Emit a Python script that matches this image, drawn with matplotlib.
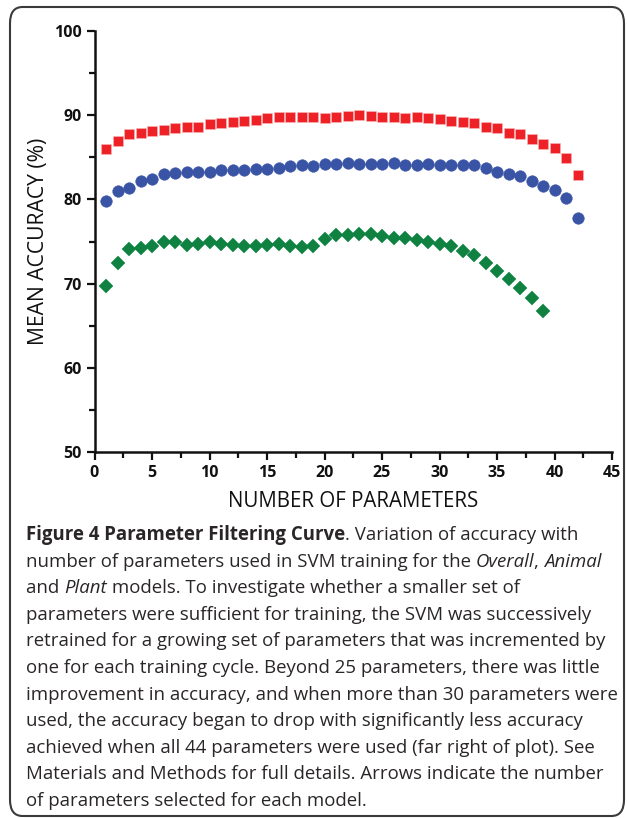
import matplotlib
matplotlib.use("Agg")
import matplotlib.pyplot as plt
from matplotlib.patches import FancyBboxPatch
from matplotlib.ticker import MultipleLocator

# ---------------- data ----------------
n_params_overall = list(range(1, 43))
overall = [86.0, 86.9, 87.7, 87.9, 88.15, 88.2, 88.5, 88.6, 88.6, 88.9,
           89.0, 89.2, 89.3, 89.45, 89.7, 89.8, 89.8, 89.8, 89.8, 89.7,
           89.8, 89.9, 90.0, 89.9, 89.8, 89.8, 89.65, 89.8, 89.65, 89.5,
           89.3, 89.2, 89.05, 88.6, 88.45, 87.9, 87.7, 87.2, 86.6, 86.1,
           84.95, 82.9]

n_params_animal = list(range(1, 43))
animal = [79.8, 81.0, 81.4, 82.2, 82.4, 82.95, 83.1, 83.3, 83.3, 83.3,
          83.5, 83.45, 83.5, 83.6, 83.6, 83.7, 84.0, 84.05, 84.0, 84.2,
          84.2, 84.3, 84.2, 84.2, 84.2, 84.3, 84.1, 84.1, 84.2, 84.1,
          84.1, 84.1, 84.1, 83.7, 83.25, 83.0, 82.8, 82.2, 81.6, 81.05,
          80.2, 77.75]

n_params_plant = list(range(1, 40))
plant = [69.75, 72.4, 74.1, 74.2, 74.5, 74.9, 74.9, 74.6, 74.7, 74.9,
         74.75, 74.6, 74.5, 74.5, 74.6, 74.7, 74.5, 74.3, 74.45, 75.3,
         75.75, 75.75, 75.9, 75.9, 75.65, 75.4, 75.4, 75.2, 74.95, 74.7,
         74.5, 73.85, 73.4, 72.45, 71.5, 70.5, 69.5, 68.35, 66.7]

x_ticks = [0, 5, 10, 15, 20, 25, 30, 35, 40, 45]
y_ticks = [50, 60, 70, 80, 90, 100]

caption_lines = [
    [("Figure 4 Parameter Filtering Curve", "bold"), (". Variation of accuracy with", "normal")],
    [("number of parameters used in SVM training for the ", "normal"), ("Overall", "italic"),
     (", ", "normal"), ("Animal", "italic")],
    [("and ", "normal"), ("Plant", "italic"), (" models. To investigate whether a smaller set of", "normal")],
    [("parameters were sufficient for training, the SVM was successively", "normal")],
    [("retrained for a growing set of parameters that was incremented by", "normal")],
    [("one for each training cycle. Beyond 25 parameters, there was little", "normal")],
    [("improvement in accuracy, and when more than 30 parameters were", "normal")],
    [("used, the accuracy began to drop with significantly less accuracy", "normal")],
    [("achieved when all 44 parameters were used (far right of plot). See", "normal")],
    [("Materials and Methods for full details. Arrows indicate the number", "normal")],
    [("of parameters selected for each model.", "normal")],
]

# ---------------- figure ----------------
W, H = 627, 818
fig = plt.figure(figsize=(W / 100, H / 100), dpi=100)
fig.patch.set_facecolor("white")

# rounded border
border = FancyBboxPatch((10 / W, 1 - 816 / H), (624 - 10) / W, (816 - 7) / H,
                        boxstyle="round,pad=0,rounding_size=0.02",
                        transform=fig.transFigure, facecolor="none",
                        edgecolor="#3a3a3a", linewidth=1.5, zorder=0)
fig.patches.append(border)

ax_left, ax_right = 94.5 / W, 612 / W
ax_top, ax_bottom = 1 - 30.7 / H, 1 - 452.3 / H
ax = fig.add_axes([ax_left, ax_bottom, ax_right - ax_left, ax_top - ax_bottom])

ax.plot(n_params_overall, overall, linestyle="none", marker="s", markersize=7.3,
        color="#ee2226", markeredgecolor="#f7b9b9", markeredgewidth=0.4, zorder=3, clip_on=False)
ax.plot(n_params_animal, animal, linestyle="none", marker="o", markersize=8.4,
        color="#3a54a5", markeredgecolor="#3a54a5", markeredgewidth=0.3, zorder=3, clip_on=False)
ax.plot(n_params_plant, plant, linestyle="none", marker="D", markersize=7.0,
        color="#0f8242", markeredgecolor="#0f8242", markeredgewidth=0.3, zorder=3, clip_on=False)

ax.set_xlim(0, 45)
ax.set_ylim(50, 100)
ax.set_xticks(x_ticks)
ax.set_yticks(y_ticks)
ax.xaxis.set_minor_locator(MultipleLocator(2.5))
ax.yaxis.set_minor_locator(MultipleLocator(5))

for s in ["top", "right"]:
    ax.spines[s].set_visible(False)
for s in ["left", "bottom"]:
    ax.spines[s].set_linewidth(1.8)
    ax.spines[s].set_color("#111111")

ax.tick_params(which="major", direction="out", length=6, width=1.6, color="#111111", pad=3)
ax.tick_params(which="minor", direction="out", length=4, width=1.6, color="#111111")
for lab in ax.get_xticklabels() + ax.get_yticklabels():
    lab.set_fontfamily("Open Sans")
    lab.set_fontweight("bold")
    lab.set_fontsize(11.5)
    lab.set_color("#111111")

ax.set_xlabel("NUMBER OF PARAMETERS", fontfamily="Open Sans", fontsize=14.8,
              color="#111111", labelpad=7)
ax.set_ylabel("MEAN ACCURACY (%)", fontfamily="Open Sans", fontsize=15.2,
              color="#111111", labelpad=4)

# ---------------- caption ----------------
renderer = fig.canvas.get_renderer()
cap_left = 26
baseline0 = 540
line_step = 26.6
cap_size = 13.4
for i, runs in enumerate(caption_lines):
    x = cap_left
    yb = 1 - (baseline0 + i * line_step) / H
    for text, style in runs:
        kw = dict(fontfamily="Open Sans", fontsize=cap_size, va="baseline", ha="left",
                  color="#2a2627")
        if style == "bold":
            kw["fontweight"] = "bold"
        elif style == "italic":
            kw["fontstyle"] = "italic"
        t = fig.text(x / W, yb, text, **kw)
        bb = t.get_window_extent(renderer=renderer)
        x = bb.x1

fig.savefig("out.png", dpi=100, facecolor="white")
